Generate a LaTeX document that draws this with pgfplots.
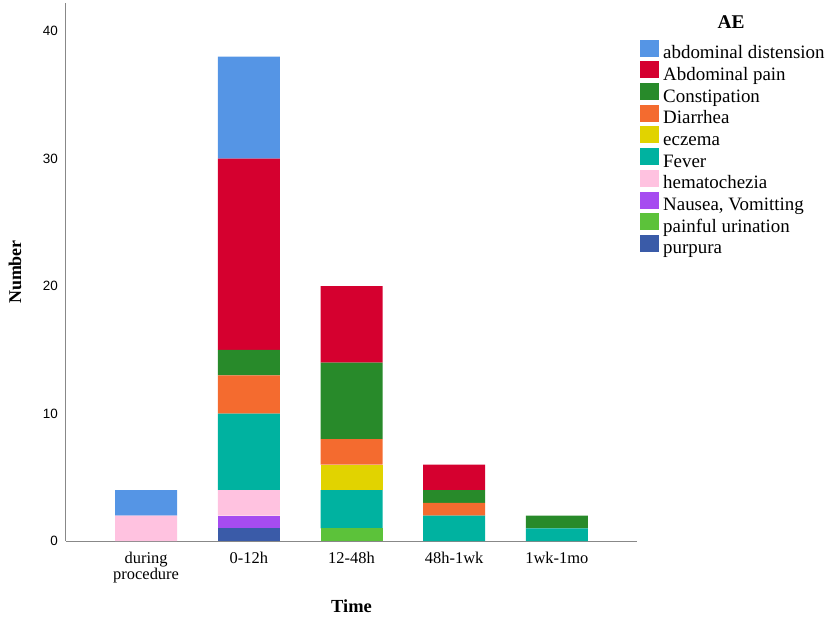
\documentclass[border=0pt]{standalone}
\usepackage{fontspec}
\setmainfont{Liberation Serif}
\newfontfamily\arial{Liberation Sans}
\usepackage{pgfplots}
\usepackage{pgfplotstable}
\pgfplotsset{compat=1.18}
\definecolor{cDist}{HTML}{5595E5}
\definecolor{cPain}{HTML}{D5002F}
\definecolor{cCons}{HTML}{288A2A}
\definecolor{cDiar}{HTML}{F46B2F}
\definecolor{cEcz}{HTML}{E1D300}
\definecolor{cFev}{HTML}{00B2A0}
\definecolor{cHem}{HTML}{FFC2E0}
\definecolor{cNau}{HTML}{A64CF0}
\definecolor{cUri}{HTML}{5CC23A}
\definecolor{cPur}{HTML}{3A5BA8}
\definecolor{axgray}{HTML}{888888}
\pgfplotstableread{
x purpura urination nausea hemat fever eczema diarrhea constip pain dist
0 0 0 0 2 0 0 0 0 0 2
1 1 0 1 2 6 0 3 2 15 8
2 0 1 0 0 3 2 2 6 6 0
3 0 0 0 0 2 0 1 1 2 0
4 0 0 0 0 1 0 0 1 0 0
}\data
\pgfplotsset{aebar/.style={fill=#1, draw=none,
  legend image code/.code={\path[fill=#1] (0bp,-2bp) rectangle (19bp,15bp);}}}
\begin{document}
\begin{tikzpicture}
\begin{axis}[
  at={(0,0)}, anchor=south west,
  scale only axis, width=571bp, height=538bp,
  ybar stacked, bar width=62bp,
  xmin=-0.78, xmax=4.78, ymin=0, ymax=42.2,
  axis lines*=left,
  axis line style={draw=axgray, line width=1bp},
  tick style={draw=none},
  xtick={0,1,2,3,4},
  xticklabels={{during\\procedure},0-12h,12-48h,48h-1wk,1wk-1mo},
  xticklabel style={font=\fontsize{16.5}{15}\selectfont, align=center, inner sep=0pt, anchor=north, yshift=-11bp},
  ytick={0,10,20,30,40},
  yticklabel style={font=\arial\fontsize{13.5}{16}\selectfont, inner sep=0pt, anchor=east, xshift=-8bp},
  /pgf/number format/assume math mode=true,
  xlabel={\textbf{Time}}, ylabel={\textbf{Number}},
  xlabel style={at={(rel axis cs:0.5,-0.1208)}, anchor=center, font=\fontsize{18.5}{20}\selectfont},
  ylabel style={at={(rel axis cs:-0.0893,0.5)}, anchor=center, font=\fontsize{18}{20}\selectfont},
  legend style={at={(1.00525,0.9322)}, anchor=north west, draw=none, fill=none,
    inner sep=0pt, row sep=-4.3bp, column sep=4bp,
    font=\fontsize{19}{22}\selectfont,
    nodes={inner sep=0pt, text height=15bp, text depth=7bp, anchor=west}},
  legend cell align=left,
  reverse legend,
]
\addplot[aebar=cPur] table[x=x, y=purpura] {\data};
\addlegendentry{purpura}
\addplot[aebar=cUri] table[x=x, y=urination] {\data};
\addlegendentry{painful urination}
\addplot[aebar=cNau] table[x=x, y=nausea] {\data};
\addlegendentry{Nausea, Vomitting}
\addplot[aebar=cHem] table[x=x, y=hemat] {\data};
\addlegendentry{hematochezia}
\addplot[aebar=cFev] table[x=x, y=fever] {\data};
\addlegendentry{Fever}
\addplot[aebar=cEcz] table[x=x, y=eczema] {\data};
\addlegendentry{eczema}
\addplot[aebar=cDiar] table[x=x, y=diarrhea] {\data};
\addlegendentry{Diarrhea}
\addplot[aebar=cCons] table[x=x, y=constip] {\data};
\addlegendentry{Constipation}
\addplot[aebar=cPain] table[x=x, y=pain] {\data};
\addlegendentry{Abdominal pain}
\addplot[aebar=cDist] table[x=x, y=dist] {\data};
\addlegendentry{abdominal distension}
\end{axis}
\node[font=\bfseries\fontsize{19.5}{22}\selectfont] at (665bp,519bp) {AE};
\pgfresetboundingbox
\useasboundingbox (-66bp,-82bp) rectangle (763bp,541bp);
\end{tikzpicture}
\end{document}
